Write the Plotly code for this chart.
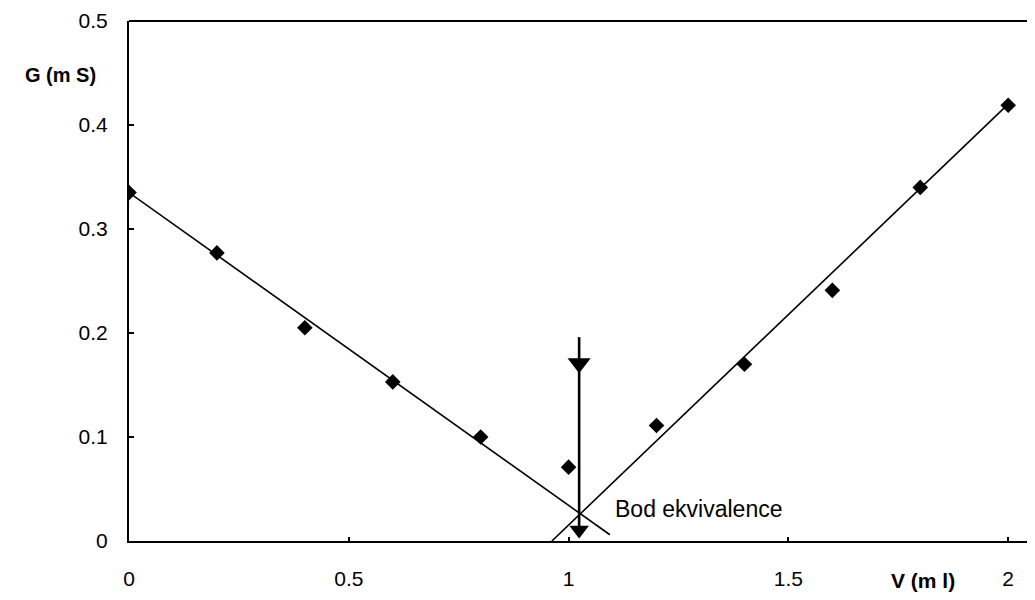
import plotly.graph_objects as go

# Titration data: added volume (ml) vs conductance (mS)
volume_ml = [0, 0.2, 0.4, 0.6, 0.8, 1.0, 1.2, 1.4, 1.6, 1.8, 2.0]
conductance_ms = [0.335, 0.277, 0.205, 0.153, 0.100, 0.071, 0.111, 0.170, 0.241, 0.340, 0.419]

# Fitted lines (endpoints)
fit_left_x = [0.0, 1.094]
fit_left_y = [0.335, 0.006]
fit_right_x = [0.962, 2.0]
fit_right_y = [0.0, 0.42]

# Equivalence point arrow
equiv_x = [1.024, 1.024]
equiv_y = [0.196, 0.004]
arrowhead_y = [0.171, 0.0106]
equiv_label = "Bod ekvivalence"
equiv_label_pos = [1.101, 0.031]

x_ticks = [0, 0.5, 1, 1.5, 2]
x_tick_text = ["0", "0.5", "1", "1.5", "2"]
y_ticks = [0, 0.1, 0.2, 0.3, 0.4, 0.5]
y_tick_text = ["0", "0.1", "0.2", "0.3", "0.4", "0.5"]

FONT = "Liberation Sans, Arial, sans-serif"

fig = go.Figure()
fig.add_trace(go.Scatter(x=fit_left_x, y=fit_left_y, mode="lines",
                         line=dict(color="black", width=1.6), hoverinfo="skip"))
fig.add_trace(go.Scatter(x=fit_right_x, y=fit_right_y, mode="lines",
                         line=dict(color="black", width=1.6), hoverinfo="skip"))
fig.add_trace(go.Scatter(x=equiv_x, y=equiv_y, mode="lines",
                         line=dict(color="black", width=2.6), hoverinfo="skip"))
fig.add_trace(go.Scatter(x=[equiv_x[0]] * len(arrowhead_y), y=arrowhead_y, mode="markers",
                         marker=dict(symbol="triangle-down", size=[20, 17], color="#000000",
                                     opacity=1, line=dict(width=0)),
                         hoverinfo="skip"))
fig.add_trace(go.Scatter(x=volume_ml, y=conductance_ms, mode="markers",
                         marker=dict(symbol="diamond", size=12, color="black")))

fig.add_annotation(x=equiv_label_pos[0], y=equiv_label_pos[1], text=equiv_label,
                   showarrow=False, xanchor="left", yanchor="middle",
                   font=dict(family=FONT, size=23, color="black"))
fig.add_annotation(xref="paper", yref="y", x=-0.076, y=0.448, text="<b>G (m S)</b>",
                   showarrow=False, xanchor="center", yanchor="middle",
                   font=dict(family=FONT, size=20, color="black"))
fig.add_annotation(xref="x", yref="paper", x=1.806, y=-0.075, text="<b>V (m l)</b>",
                   showarrow=False, xanchor="center", yanchor="middle",
                   font=dict(family=FONT, size=21, color="black"))

# top border line
fig.add_shape(type="line", xref="paper", yref="paper", x0=0, x1=1, y0=1, y1=1,
              line=dict(color="black", width=2))

fig.update_layout(
    width=1035, height=600,
    margin=dict(l=121, r=8, t=13, b=67, autoexpand=False),
    plot_bgcolor="white", paper_bgcolor="white",
    showlegend=False,
    font=dict(family=FONT, size=21, color="black"),
)
fig.update_xaxes(range=[0, 2.061], tickvals=x_ticks, ticktext=x_tick_text, automargin=False,
                 showgrid=False, zeroline=False, showline=True, linecolor="black",
                 linewidth=2, ticks="inside", ticklen=4, tickwidth=1.5, tickcolor="black",
                 ticklabelstandoff=18)
fig.update_yaxes(range=[0, 0.5], tickvals=y_ticks, ticktext=y_tick_text, automargin=False,
                 showgrid=False, zeroline=False, showline=True, linecolor="black",
                 linewidth=2, ticks="inside", ticklen=5, tickwidth=1.5, tickcolor="black",
                 ticklabelstandoff=15)

fig.write_html("out.html")
